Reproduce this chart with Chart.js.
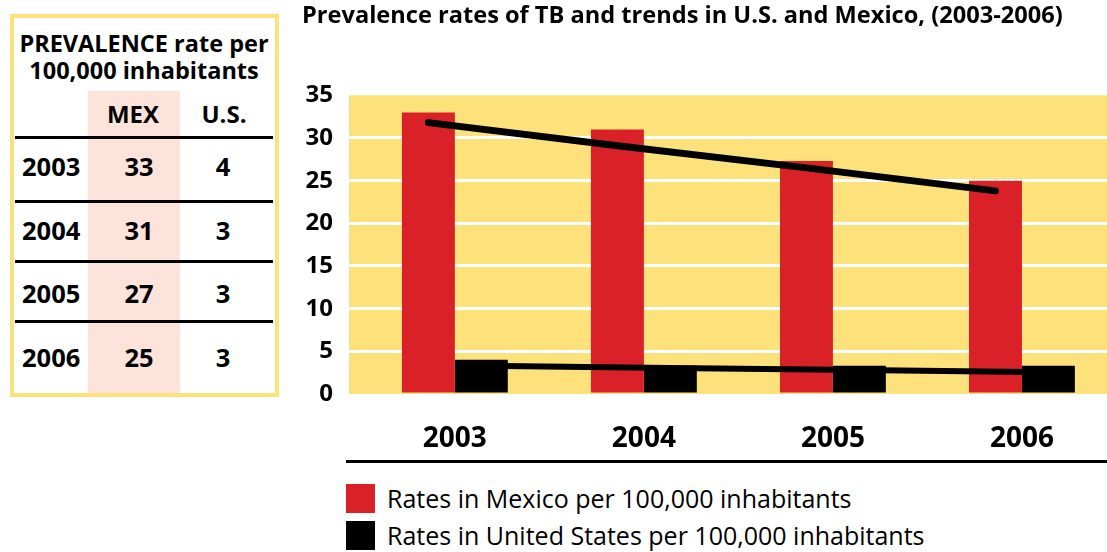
<!DOCTYPE html>
<html>
<head>
<meta charset="utf-8">
<script src="https://cdn.jsdelivr.net/npm/chart.js@4.4.1/dist/chart.umd.min.js"></script>
<style>
  html, body { margin: 0; padding: 0; background: #fff; width: 1107px; height: 552px; overflow: hidden; }
  body { position: relative; font-family: "Open Sans", sans-serif; color: #000; }
  #chartBox { position: absolute; left: 290px; top: 0; width: 817px; height: 458px; }
  .abs { position: absolute; white-space: nowrap; }
  #tableBox { position: absolute; left: 10px; top: 14px; width: 269px; height: 383px; box-sizing: border-box; border: 4px solid #fde27b; }
  .rule { position: absolute; background: #000; }
  .swatch { position: absolute; width: 29px; height: 29px; }
</style>
</head>
<body>
<div id="tableBox"></div>
<div id="tableParts"></div>
<div id="chartBox"><canvas id="chart"></canvas></div>
<div class="rule" style="left:346px; top:460px; width:761px; height:3px;"></div>
<div id="legend"></div>

<script>
// --- data ---
const years = [2003, 2004, 2005, 2006];
const mexicoRates = [33, 31, 27.3, 25];
const usRates = [4, 3.3, 3.3, 3.3];
// trend lines (straight lines drawn over the bars)
const mexicoTrend = [31.8, 29.1, 26.5, 23.8];
const usTrend = [3.3, 3.05, 2.8, 2.55];
// side table
const tableHeading = ['PREVALENCE rate per', '100,000 inhabitants'];
const tableCols = ['MEX', 'U.S.'];
const tableMex = [33, 31, 27, 25];
const tableUS = [4, 3, 3, 3];
const seriesLabels = ['Rates in Mexico per 100,000 inhabitants', 'Rates in United States per 100,000 inhabitants'];
const chartTitle = 'Prevalence rates of TB and trends in U.S. and Mexico, (2003-2006)';

const RED = '#da2128';
const BLACK = '#000000';
const YELLOW = '#fde27b';
const PINK = '#fde3da';
const FONT = '"Open Sans", sans-serif';

// x is a linear year axis so the plot can extend past the last group like the original
const CAT_PCT = 0.56;
const barShift = CAT_PCT / 4; // centre of each bar within its pair

// --- side table (plain HTML) ---
const parts = document.getElementById('tableParts');
function addText(txt, x, y, size, align, weight) {
  const d = document.createElement('div');
  d.className = 'abs';
  d.textContent = txt;
  d.style.font = (weight || 700) + ' ' + size + 'px ' + FONT;
  d.style.lineHeight = size + 'px';
  d.style.top = (y - size / 2) + 'px';
  if (align === 'center') {
    d.style.left = (x - 200) + 'px';
    d.style.width = '400px';
    d.style.textAlign = 'center';
  } else {
    d.style.left = x + 'px';
  }
  parts.appendChild(d);
}
const pinkCol = document.createElement('div');
pinkCol.style.cssText = 'position:absolute;left:88px;top:91px;width:92px;height:302px;background:' + PINK;
parts.appendChild(pinkCol);

addText(tableHeading[0], 144, 44, 23.5, 'center');
addText(tableHeading[1], 144, 71, 23.5, 'center');
addText(tableCols[0], 133, 114, 24, 'center');
addText(tableCols[1], 224, 114, 24, 'center');

const ruleYs = [137, 201, 261, 321];
ruleYs.forEach(y => {
  const r = document.createElement('div');
  r.className = 'rule';
  r.style.cssText += 'left:15px;width:258px;height:3px;top:' + (y - 1.5) + 'px';
  parts.appendChild(r);
});
const rowYs = [167, 231, 294, 358];
years.forEach((yr, i) => {
  addText(String(yr), 22, rowYs[i], 25.5, 'left');
  addText(String(tableMex[i]), 139, rowYs[i], 25.5, 'center');
  addText(String(tableUS[i]), 223, rowYs[i], 25.5, 'center');
});

// --- legend (HTML, below the rule) ---
const legend = document.getElementById('legend');
[RED, BLACK].forEach((c, i) => {
  const top = 484 + i * 37;
  const sw = document.createElement('div');
  sw.className = 'swatch';
  sw.style.left = '346px';
  sw.style.top = top + 'px';
  sw.style.background = c;
  legend.appendChild(sw);
  const t = document.createElement('div');
  t.className = 'abs';
  t.textContent = seriesLabels[i];
  t.style.font = '400 25px ' + FONT;
  t.style.lineHeight = '29px';
  t.style.left = '387px';
  t.style.top = top + 'px';
  legend.appendChild(t);
});

// --- chart ---
const plotBackground = {
  id: 'plotBackground',
  beforeDraw(chart) {
    const { ctx, chartArea: a } = chart;
    ctx.save();
    ctx.fillStyle = YELLOW;
    ctx.fillRect(a.left, a.top, a.right - a.left, a.bottom - a.top);
    ctx.restore();
  }
};

new Chart(document.getElementById('chart'), {
  type: 'bar',
  data: {
    datasets: [
      {
        type: 'line',
        label: 'Mexico trend',
        data: years.map((y, i) => ({ x: y - barShift, y: mexicoTrend[i] })),
        borderColor: BLACK,
        borderWidth: 7,
        borderCapStyle: 'round',
        pointRadius: 0,
        tension: 0,
        order: 0
      },
      {
        type: 'line',
        label: 'US trend',
        data: years.map((y, i) => ({ x: y + barShift, y: usTrend[i] })),
        borderColor: BLACK,
        borderWidth: 6,
        borderCapStyle: 'round',
        pointRadius: 0,
        tension: 0,
        order: 0
      },
      {
        label: seriesLabels[0],
        data: years.map((y, i) => ({ x: y, y: mexicoRates[i] })),
        backgroundColor: RED,
        categoryPercentage: CAT_PCT,
        barPercentage: 1,
        order: 1
      },
      {
        label: seriesLabels[1],
        data: years.map((y, i) => ({ x: y, y: usRates[i] })),
        backgroundColor: BLACK,
        categoryPercentage: CAT_PCT,
        barPercentage: 1,
        order: 1
      }
    ]
  },
  options: {
    responsive: true,
    maintainAspectRatio: false,
    animation: false,
    layout: { padding: { left: 12, right: 0, top: 0, bottom: 0 } },
    scales: {
      x: {
        type: 'linear',
        offset: false,
        min: 2002.44,
        max: 2006.45,
        grid: { display: false, offset: false },
        border: { display: false },
        ticks: {
          stepSize: 1,
          includeBounds: false,
          padding: 20,
          color: BLACK,
          font: { family: FONT, size: 28, weight: 'bold' },
          callback: v => String(v)
        },
        afterFit(scale) { scale.height = 64; }
      },
      y: {
        min: 0,
        max: 35,
        grid: {
          drawTicks: false,
          lineWidth: 3,
          color: c => (c.tick.value === 0 || c.tick.value === 35) ? 'rgba(0,0,0,0)' : '#ffffff'
        },
        border: { display: false },
        ticks: {
          stepSize: 5,
          padding: 16,
          color: BLACK,
          font: { family: FONT, size: 24, weight: 'bold' }
        },
        afterFit(scale) { scale.width = 47; }
      }
    },
    plugins: {
      legend: { display: false },
      tooltip: { enabled: false },
      title: {
        display: true,
        text: chartTitle,
        align: 'start',
        color: BLACK,
        font: { family: FONT, size: 23.6, weight: 'bold' },
        padding: { top: 2, bottom: 65 }
      }
    }
  },
  plugins: [plotBackground]
});
</script>
</body>
</html>
